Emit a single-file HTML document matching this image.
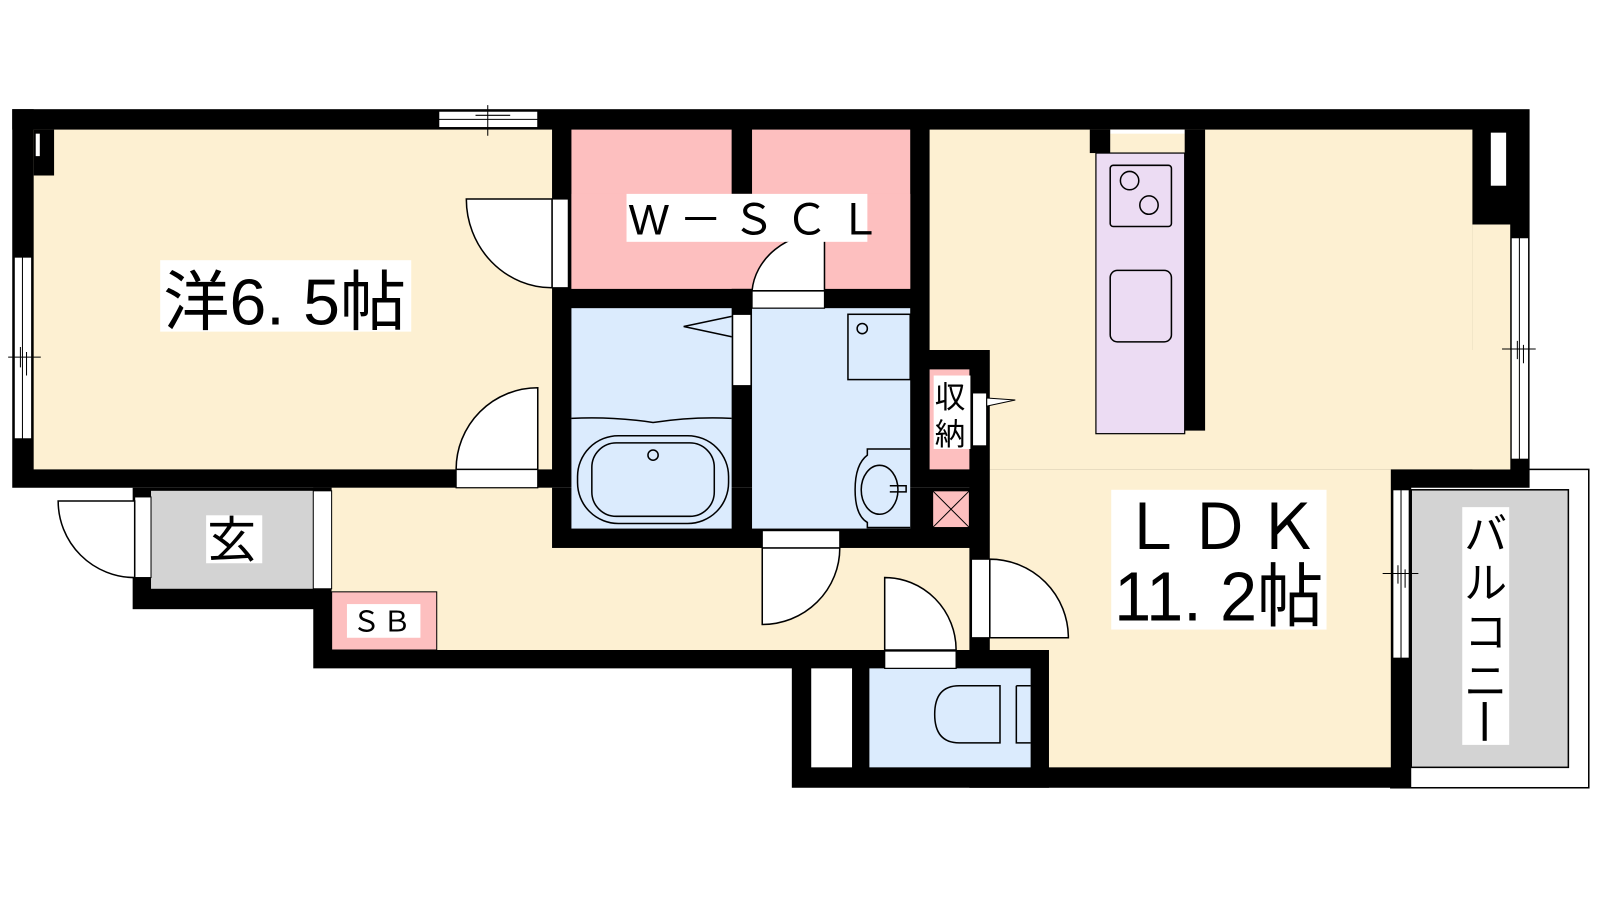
<!DOCTYPE html>
<html><head><meta charset="utf-8"><style>
html,body{margin:0;padding:0;background:#fff;}
svg{display:block;}
text{font-family:"Liberation Sans","Noto Sans CJK JP",sans-serif;fill:#000;}
</style></head><body>
<svg width="1600" height="900" viewBox="0 0 1568 882" xmlns="http://www.w3.org/2000/svg">
<rect x="0" y="0" width="1568" height="882" fill="#fff"/>
<!-- balcony -->
<rect x="1363" y="460" width="194" height="312" fill="#fff" stroke="#000" stroke-width="1.5"/>
<rect x="1383" y="480" width="154" height="272" fill="#d3d3d3" stroke="#000" stroke-width="1.5"/>
<!-- black masses -->
<rect x="12" y="107" width="1487" height="371" fill="#000"/>
<rect x="130" y="478" width="195" height="119" fill="#000"/>
<rect x="307" y="478" width="663" height="177" fill="#000"/>
<rect x="776" y="637" width="252" height="135" fill="#000"/>
<rect x="950" y="460" width="433" height="312" fill="#000"/>
<!-- rooms -->
<g fill="#fdf0d2">
<rect x="33" y="127" width="508" height="333"/>
<rect x="325" y="478" width="216" height="159"/>
<rect x="325" y="537" width="625" height="100"/>
<rect x="911" y="127" width="532" height="216"/>
<rect x="1443" y="220" width="37" height="240"/>
<rect x="970" y="343" width="510" height="117"/>
<rect x="970" y="460" width="393" height="177"/>
<rect x="1028" y="637" width="335" height="115"/>
</g>
<rect x="12" y="107" width="21" height="20" fill="#000"/>
<rect x="33" y="127" width="20" height="45" fill="#000"/>
<rect x="35" y="131" width="4" height="22" fill="#fff"/>
<rect x="1443" y="127" width="37" height="93" fill="#000"/>
<rect x="1461" y="130" width="15" height="52" fill="#fff"/>
<!-- WSCL -->
<rect x="560" y="127" width="157" height="156" fill="#fdbfbf"/>
<rect x="737" y="127" width="155" height="156" fill="#fdbfbf"/>
<rect x="560" y="190" width="332" height="93" fill="#fdbfbf"/>
<!-- baths -->
<rect x="560" y="302" width="157" height="216" fill="#dbebfd"/>
<rect x="737" y="302" width="155" height="216" fill="#dbebfd"/>
<rect x="852" y="655" width="158" height="97" fill="#dbebfd"/>
<rect x="795" y="655" width="40" height="97" fill="#fff"/>
<!-- genkan -->
<rect x="148" y="481" width="159" height="96" fill="#d3d3d3"/>
<rect x="132" y="487" width="16" height="79" fill="#fff" stroke="#000"/>
<rect x="307" y="481" width="18" height="96" fill="#fff" stroke="#000"/>
<!-- SB -->
<rect x="325" y="580" width="103" height="57" fill="#fdbfbf" stroke="#000" stroke-width="1"/>
<!-- shuno -->
<rect x="911" y="362" width="39" height="98" fill="#fdbfbf"/>
<rect x="914" y="481" width="36" height="36" fill="#fdbfbf" stroke="#000"/>
<path d="M914 481 L950 517 M950 481 L914 517" stroke="#000" stroke-width="1"/>
<!-- kitchen -->
<rect x="1088" y="127" width="73" height="4" fill="#fff"/>
<rect x="1068" y="127" width="20" height="23" fill="#000"/>
<rect x="1074" y="150" width="87" height="275" fill="#ecdcf3" stroke="#000" stroke-width="1.2"/>
<rect x="1161" y="127" width="20" height="295" fill="#000"/>
<rect x="1088" y="162" width="60" height="60" rx="3" fill="none" stroke="#000" stroke-width="1.5"/>
<circle cx="1107" cy="177" r="9" fill="none" stroke="#000" stroke-width="1.5"/>
<circle cx="1126" cy="201" r="9" fill="none" stroke="#000" stroke-width="1.5"/>
<rect x="1088" y="265" width="60" height="70" rx="7" fill="none" stroke="#000" stroke-width="1.5"/>
<!-- windows -->
<g fill="#fff" stroke="#000" stroke-width="1">
<rect x="430" y="109" width="97" height="16"/>
<rect x="14" y="252" width="17" height="178"/>
<rect x="1481" y="233" width="17" height="217"/>
<rect x="1365" y="480" width="16" height="165"/>
</g>
<g stroke="#000" stroke-width="1" fill="none">
<path d="M430 117 H527 M478 103 V133 M466 113 H500"/>
<path d="M22 252 V430 M8 350 H40 M20 340 V360 M26 345 V368"/>
<path d="M1489 233 V450 M1472 342 H1505 M1487 334 V352 M1493 338 V356"/>
<path d="M1373 480 V645 M1355 562 H1390 M1370 554 V572 M1377 558 V576"/>
</g>
<!-- door openings -->
<g fill="#fff" stroke="#000" stroke-width="1.2">
<rect x="541" y="195" width="16" height="87"/>
<rect x="447" y="460" width="80" height="18"/>
<rect x="737" y="285" width="71" height="17"/>
<rect x="718" y="308" width="18" height="70"/>
<rect x="747" y="520" width="76" height="17"/>
<rect x="953" y="385" width="14" height="52"/>
<rect x="952" y="548" width="18" height="77"/>
<rect x="867" y="638" width="70" height="17"/>
</g>
<!-- door arcs -->
<g fill="#fff" stroke="#000" stroke-width="1.5">
<path d="M541 195 H457 A84 87 0 0 0 541 282 Z"/>
<path d="M527 460 V380 A80 80 0 0 0 447 460 Z"/>
<path d="M132 491 H57 A75 75 0 0 0 132 566 Z"/>
<path d="M808 285 V228 A71 62 0 0 0 737 285 Z"/>
<path d="M747 537 V612 A76 75 0 0 0 823 537 Z"/>
<path d="M970 625 H1047 A77 77 0 0 0 970 548 Z"/>
<path d="M867 637 V566 A70 71 0 0 1 937 637 Z"/>
</g>
<path d="M967 390 L995 392 L967 398 Z" fill="#fff" stroke="#000"/>
<!-- fixtures -->
<g fill="none" stroke="#000" stroke-width="1.5">
<path d="M717 310 L670 320 L717 330"/>
<path d="M560 410 Q600 408 640 414 Q680 408 717 410"/>
<rect x="566" y="427" width="148" height="86" rx="40"/>
<rect x="580" y="434" width="120" height="72" rx="24"/>
<circle cx="640" cy="446" r="5"/>
<rect x="831" y="308" width="61" height="64"/>
<circle cx="845" cy="322" r="5"/>
<path d="M892 440 H850 V446 Q838 455 838 480 Q838 505 850 512 V517 H892"/>
<ellipse cx="862" cy="480" rx="18" ry="24"/>
<path d="M872 476 H888 V482 H872"/>
<path d="M980 672 H940 Q916 672 916 700 Q916 728 940 728 H980 Z M980 672 V728 M996 672 V728 H1010 M996 672 H1010"/>
</g>
<!-- labels -->
<g fill="#fff">
<rect x="157" y="255" width="246" height="70"/>
<rect x="614" y="190" width="236" height="47"/>
<rect x="202" y="505" width="55" height="47"/>
<rect x="340" y="592" width="72" height="33"/>
<rect x="915" y="368" width="36" height="72"/>
<rect x="1089" y="480" width="211" height="137"/>
<rect x="1433" y="497" width="46" height="233"/>
</g>
<text x="160" y="318" font-size="64" textLength="238" lengthAdjust="spacingAndGlyphs">洋6. 5帖</text>
<text x="616" y="230" font-size="42" letter-spacing="10">W－ＳＣＬ</text>
<text x="203" y="546" font-size="48">玄</text>
<text x="345" y="619" font-size="28" letter-spacing="2">ＳＢ</text>
<text x="916" y="400" font-size="30">収</text>
<text x="916" y="436" font-size="30">納</text>
<text x="1098" y="538" font-size="62" textLength="195" lengthAdjust="spacing">ＬＤＫ</text>
<text x="1092" y="608" font-size="68" textLength="205" lengthAdjust="spacingAndGlyphs">11. 2帖</text>
<text x="1435" y="538" font-size="42">バ</text>
<text x="1435" y="586" font-size="42">ル</text>
<text x="1435" y="634" font-size="42">コ</text>
<text x="1435" y="682" font-size="42">ニ</text>
<rect x="1453" y="688" width="4" height="38" fill="#000"/>
</svg>
</body></html>
